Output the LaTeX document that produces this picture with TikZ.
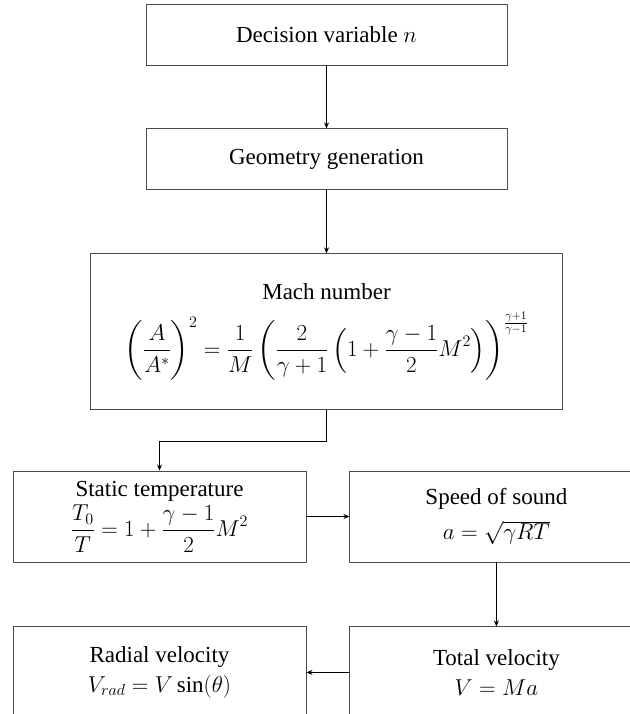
\RequirePackage{fix-cm}
\documentclass[tikz,border=0pt]{standalone}
\usepackage{amsmath}
\usepackage{fontspec}
\setmainfont{Liberation Serif}
\usetikzlibrary{arrows.meta, positioning}

\begin{document}
\begin{tikzpicture}[
  x=1pt, y=1pt,
  node distance=43pt,
  >={Stealth[length=6pt, width=5pt]},
  font=\fontsize{23}{28}\selectfont,
  base/.style={draw=black!70, line width=0.9pt, align=center, inner sep=2pt},
  stage/.style={base, minimum width=361pt, minimum height=61pt},
  eqbox/.style={base, minimum width=472pt, minimum height=156pt},
  calc/.style={base, minimum width=293pt, minimum height=91pt},
  link/.style={->, line width=0.9pt},
]
  \useasboundingbox (0,0) rectangle (629,-714);

  \node[stage] (decision) at (326.5,-34.5) {Decision variable $n$};
  \node[stage, below=63pt of decision] (geometry) {Geometry generation};
  \node[eqbox, below=63pt of geometry] (mach) {Mach number\\[12pt]
    $\displaystyle \left(\frac{A}{A^*}\right)^{2} = \frac{1}{M}\left(\frac{2}{\gamma+1}\left(1+\frac{\gamma-1}{2}M^2\right)\right)^{\frac{\gamma+1}{\gamma-1}}$};

  \node[calc] (temp) at (159.5,-516.5) {Static temperature\\[3pt]
    $\displaystyle \frac{T_0}{T} = 1+\frac{\gamma-1}{2}M^2$};
  \node[calc, right=of temp] (sound) {Speed of sound\\[7pt] $a=\sqrt{\gamma RT}$};
  \node[calc, below=64pt of sound] (velocity) {Total velocity\\[2pt] $V=Ma$};
  \node[calc, left=of velocity] (radial) {Radial velocity\\[2pt] $V_{rad}=V\sin(\theta)$};

  \draw[link] (decision) -- (geometry);
  \draw[link] (geometry) -- (mach);
  \draw[link] (mach.south) -- ++(0,-31) -| (temp.north);
  \draw[link] (temp) -- (sound);
  \draw[link] (sound) -- (velocity);
  \draw[link] (velocity) -- (radial);
\end{tikzpicture}
\end{document}
